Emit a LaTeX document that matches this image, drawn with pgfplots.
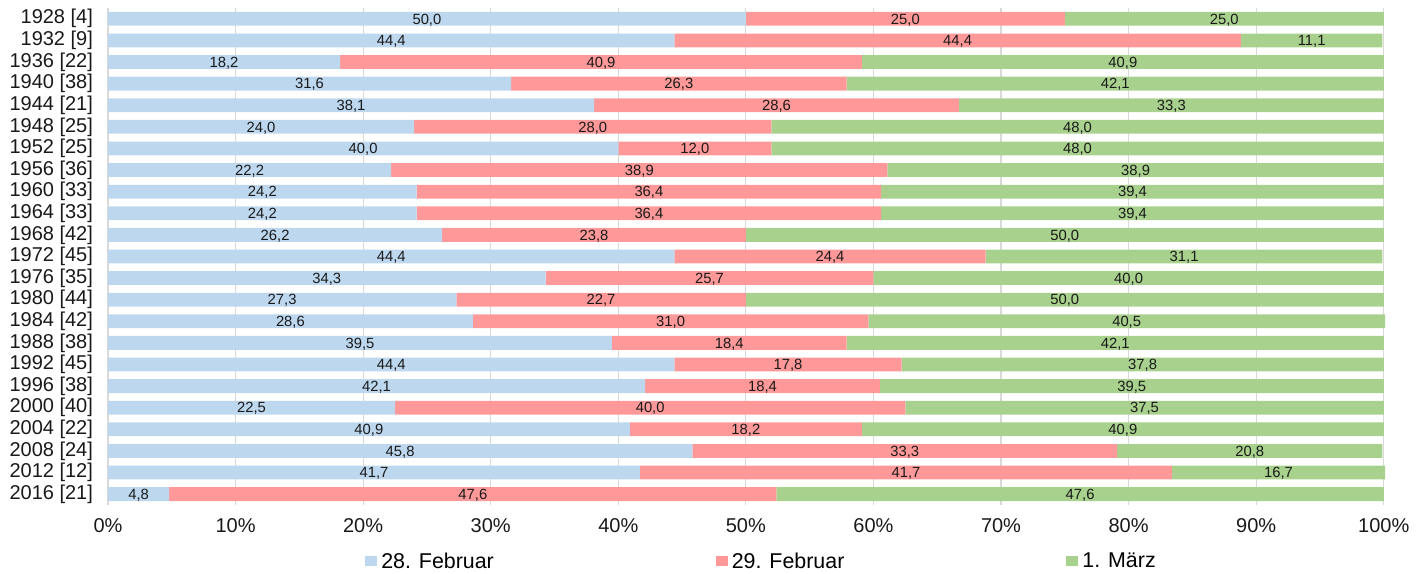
\documentclass[border=0pt]{standalone}
\usepackage{pgfplots}
\pgfplotsset{compat=1.18}
\usepackage{pgfplotstable}
\usepackage{fontspec}
\setmainfont{Liberation Sans}

\definecolor{cFeb}{HTML}{BDD7EE}
\definecolor{cLeap}{HTML}{FF9999}
\definecolor{cMar}{HTML}{A9D18E}
\definecolor{cGrid}{HTML}{D9D9D9}

% share of births per day, in percent
\pgfplotstableread{
year feb28 feb29 mar1
1928 50.0 25.0 25.0
1932 44.4 44.4 11.1
1936 18.2 40.9 40.9
1940 31.6 26.3 42.1
1944 38.1 28.6 33.3
1948 24.0 28.0 48.0
1952 40.0 12.0 48.0
1956 22.2 38.9 38.9
1960 24.2 36.4 39.4
1964 24.2 36.4 39.4
1968 26.2 23.8 50.0
1972 44.4 24.4 31.1
1976 34.3 25.7 40.0
1980 27.3 22.7 50.0
1984 28.6 31.0 40.5
1988 39.5 18.4 42.1
1992 44.4 17.8 37.8
1996 42.1 18.4 39.5
2000 22.5 40.0 37.5
2004 40.9 18.2 40.9
2008 45.8 33.3 20.8
2012 41.7 41.7 16.7
2016 4.8 47.6 47.6
}\data

\begin{document}
\begin{tikzpicture}
\begin{axis}[
    name=ax,
    xbar stacked,
    scale only axis,
    width=638.6pt,
    height=248.5pt,
    bar width=6.9pt,
    xmin=0, xmax=100.1, % rounded shares add up to 100.1 in places
    ymin=-0.5, ymax=22.5,
    y dir=reverse,
    axis line style={draw=none},
    major tick length=0pt,
    xmajorgrids,
    major grid style={cGrid, line width=0.6pt},
    xtick={0,10,...,100},
    xticklabels={0\%,10\%,20\%,30\%,40\%,50\%,60\%,70\%,80\%,90\%,100\%},
    ytick={0,...,22},
    yticklabels={{1928 [4]},{1932 [9]},{1936 [22]},{1940 [38]},{1944 [21]},
      {1948 [25]},{1952 [25]},{1956 [36]},{1960 [33]},{1964 [33]},{1968 [42]},
      {1972 [45]},{1976 [35]},{1980 [44]},{1984 [42]},{1988 [38]},{1992 [45]},
      {1996 [38]},{2000 [40]},{2004 [22]},{2008 [24]},{2012 [12]},{2016 [21]}},
    ticklabel style={font=\fontsize{10}{12}\selectfont, text=black!90},
    xticklabel style={yshift=-3.5pt},
    yticklabel style={xshift=-4pt},
    % the label of each segment is its own share (stacked nodes sit mid-segment)
    point meta=explicit symbolic,
    nodes near coords={\pgfmathprintnumber[fixed, fixed zerofill, precision=1,
        use comma, assume math mode=true]{\pgfplotspointmeta}},
    every node near coord/.append style={
        anchor=center, yshift=-0.5pt,
        font=\fontsize{7.4}{8}\selectfont, text=black!90, inner sep=0pt,
    },
    legend columns=3,
    legend style={
        draw=none, fill=none,
        at={(0.5,0)}, anchor=center, yshift=-28.5pt, xshift=8pt,
        font=\fontsize{10.7}{12}\selectfont,
        /tikz/every even column/.append style={column sep=109pt},
    },
    legend image code/.code={\fill[#1] (-1pt,-2.2pt) rectangle (5pt,2.8pt);},
]
\addplot[fill=cFeb, draw=none] table[x=feb28, y expr=\coordindex, meta=feb28] {\data};
\addplot[fill=cLeap, draw=none] table[x=feb29, y expr=\coordindex, meta=feb29] {\data};
\addplot[fill=cMar, draw=none] table[x=mar1, y expr=\coordindex, meta=mar1] {\data};
\legend{28. Februar, 29. Februar, 1. März}
\end{axis}
\pgfresetboundingbox
\path[use as bounding box] ([xshift=-54pt,yshift=-34.25pt]ax.south west)
    rectangle ([xshift=21pt,yshift=4pt]ax.north east);
\end{tikzpicture}
\end{document}
